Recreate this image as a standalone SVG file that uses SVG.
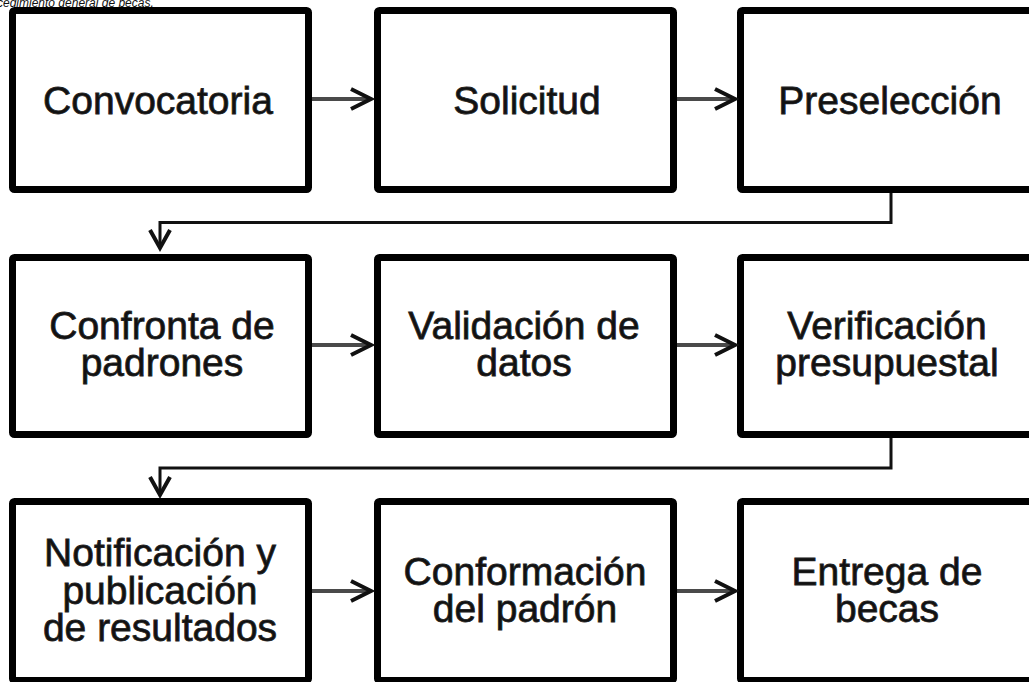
<svg xmlns="http://www.w3.org/2000/svg" width="1029" height="682" viewBox="0 0 1029 682">
<style>
.box{fill:#fff;stroke:#000;stroke-width:7;}
.lbl{font-family:"Liberation Sans",Arial,sans-serif;font-size:39px;fill:#111;stroke:#222;stroke-width:0.8;text-anchor:middle;}
.cap{font-family:"Liberation Sans",Arial,sans-serif;font-size:12px;font-style:italic;fill:#111;}
.flow{fill:none;stroke:#4a4a4a;stroke-width:4;}
.head{fill:none;stroke:#111;stroke-width:4;stroke-linejoin:miter;}
.elbow{fill:none;stroke:#111;stroke-width:3;}
</style>
<rect width="1029" height="682" fill="#fff"/>
<text class="cap" x="-3" y="6.5">cedimiento general de becas.</text>

<g id="n1"><rect class="box" x="12.5" y="10.5" width="296" height="179" rx="2"/><text class="lbl" x="158" y="114">Convocatoria</text></g>
<g id="n2"><rect class="box" x="377.5" y="10.5" width="296" height="179" rx="2"/><text class="lbl" x="527" y="114">Solicitud</text></g>
<g id="n3"><rect class="box" x="740.5" y="10.5" width="296" height="179" rx="2"/><text class="lbl" x="890" y="114">Preselección</text></g>

<g id="n4"><rect class="box" x="12.5" y="257.5" width="296" height="177" rx="2"/><text class="lbl" x="162" y="339">Confronta de</text><text class="lbl" x="162" y="376">padrones</text></g>
<g id="n5"><rect class="box" x="377.5" y="257.5" width="296" height="177" rx="2"/><text class="lbl" x="524" y="339">Validación de</text><text class="lbl" x="524" y="376">datos</text></g>
<g id="n6"><rect class="box" x="740.5" y="257.5" width="296" height="177" rx="2"/><text class="lbl" x="887" y="339">Verificación</text><text class="lbl" x="887" y="376">presupuestal</text></g>

<g id="n7"><rect class="box" x="12.5" y="501.5" width="296" height="179" rx="2"/><text class="lbl" x="160" y="566">Notificación y</text><text class="lbl" x="160" y="603.5">publicación</text><text class="lbl" x="160" y="641">de resultados</text></g>
<g id="n8"><rect class="box" x="377.5" y="501.5" width="296" height="179" rx="2"/><text class="lbl" x="525" y="585">Conformación</text><text class="lbl" x="525" y="622">del padrón</text></g>
<g id="n9"><rect class="box" x="740.5" y="501.5" width="296" height="179" rx="2"/><text class="lbl" x="887" y="585">Entrega de</text><text class="lbl" x="887" y="622">becas</text></g>

<g id="connectors">
<path class="flow" d="M312 99H371"/><path class="head" d="M351 89L371 99L351 109"/>
<path class="flow" d="M677 99H735"/><path class="head" d="M715 89L735 99L715 109"/>
<path class="flow" d="M312 345H371"/><path class="head" d="M351 335L371 345L351 355"/>
<path class="flow" d="M677 345H735"/><path class="head" d="M715 335L735 345L715 355"/>
<path class="flow" d="M312 591H371"/><path class="head" d="M351 581L371 591L351 601"/>
<path class="flow" d="M677 591H735"/><path class="head" d="M715 581L735 591L715 601"/>
<path class="elbow" d="M891 193V222.5H160V247"/><path class="head" d="M150 230L160 248L170 230"/>
<path class="elbow" d="M891 438V468H160V494"/><path class="head" d="M150 477L160 495L170 477"/>
</g>
</svg>
